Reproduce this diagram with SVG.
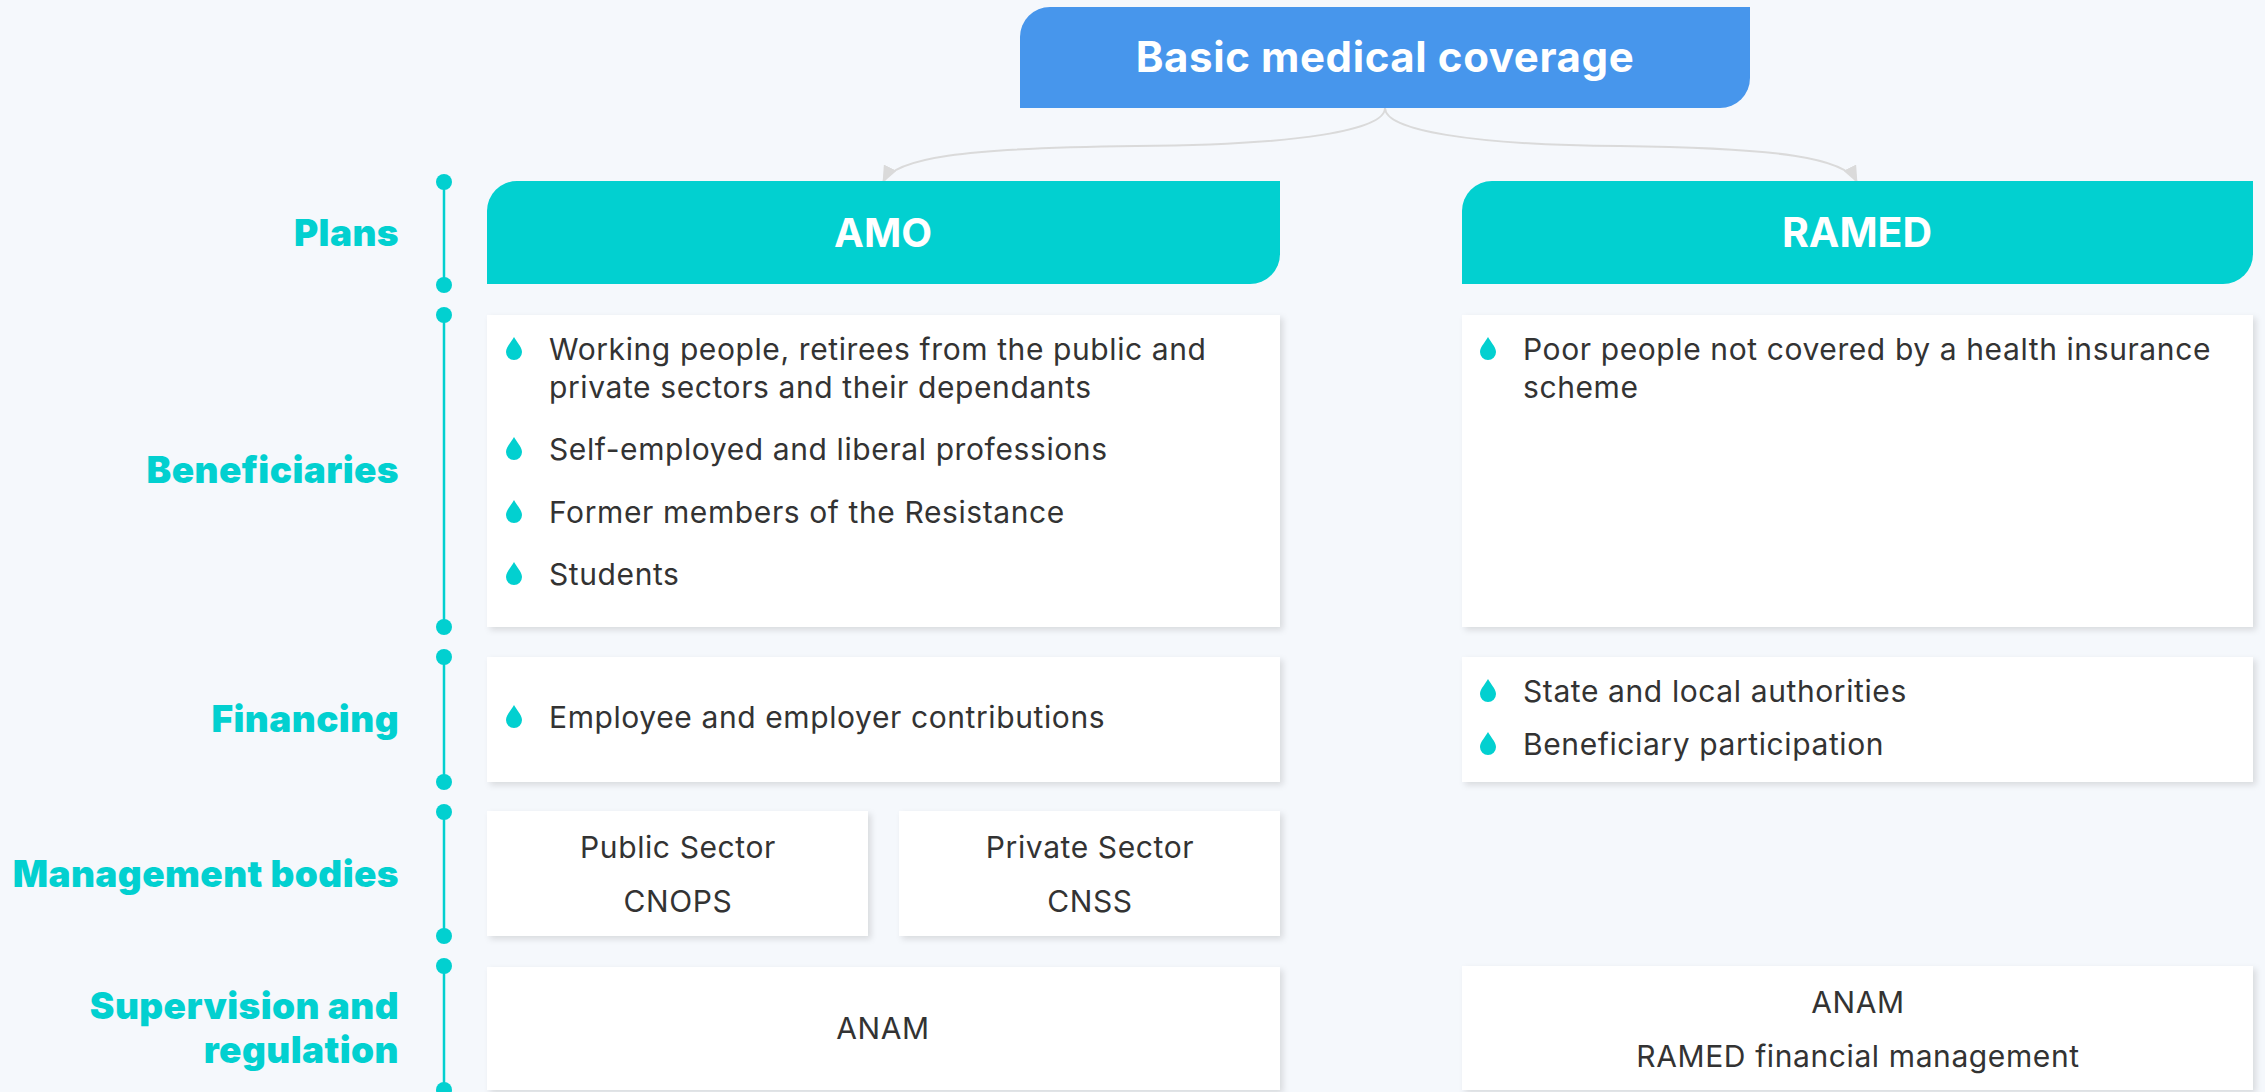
<svg xmlns="http://www.w3.org/2000/svg" width="2265" height="1092" viewBox="0 0 2265 1092">
<defs>
<style>
.bg{fill:#F5F8FC}
.card{fill:#FFFFFF;filter:url(#sh)}
.hdr{fill:#02D0D0}
.ht{font-family:Inter,"Liberation Sans",sans-serif;font-weight:700;fill:#FFFFFF;text-anchor:middle}
.lbl{font-family:Inter,"Liberation Sans",sans-serif;font-weight:900;font-size:37px;letter-spacing:0.4px;fill:#02D0D0;text-anchor:end}
.tx{font-family:Inter,"Liberation Sans",sans-serif;font-size:30px;letter-spacing:0.6px;fill:#333333}
.ct{text-anchor:middle}
.tl{stroke:#02D0D0;stroke-width:2.5}
.dot{fill:#02D0D0}
.con{fill:none;stroke:#DADADA;stroke-width:2}
</style>
<filter id="sh" x="-5%" y="-10%" width="110%" height="125%">
<feDropShadow dx="3" dy="3" stdDeviation="3" flood-color="#000000" flood-opacity="0.12"/>
</filter>
<marker id="ah" markerWidth="18" markerHeight="14" refX="16" refY="7" orient="auto" markerUnits="userSpaceOnUse">
<path d="M0,0 L17,7 L0,14 Z" fill="#DADADA"/>
</marker>
<path id="drop" d="M0,-15 C2,-11 8,-5 8,0 A8,8 0 0 1 -8,0 C-8,-5 -2,-11 0,-15 Z" fill="#02D0D0"/>
</defs>
<rect class="bg" x="0" y="0" width="2265" height="1092"/>

<g id="connectors">
<path class="con" d="M1385,108 C1385,130 1300,145 1136,146 C960,148 895,158 883,182" marker-end="url(#ah)"/>
<path class="con" d="M1385,108 C1385,130 1470,145 1620,146 C1780,148 1845,158 1857,182" marker-end="url(#ah)"/>
</g>

<g id="timeline">
<line class="tl" x1="444" y1="182" x2="444" y2="285"/>
<circle class="dot" cx="444" cy="182" r="8"/><circle class="dot" cx="444" cy="285" r="8"/>
<line class="tl" x1="444" y1="315" x2="444" y2="627"/>
<circle class="dot" cx="444" cy="315" r="8"/><circle class="dot" cx="444" cy="627" r="8"/>
<line class="tl" x1="444" y1="657" x2="444" y2="782"/>
<circle class="dot" cx="444" cy="657" r="8"/><circle class="dot" cx="444" cy="782" r="8"/>
<line class="tl" x1="444" y1="812" x2="444" y2="936"/>
<circle class="dot" cx="444" cy="812" r="8"/><circle class="dot" cx="444" cy="936" r="8"/>
<line class="tl" x1="444" y1="966" x2="444" y2="1092"/>
<circle class="dot" cx="444" cy="966" r="8"/><circle class="dot" cx="444" cy="1090" r="8"/>
</g>

<g id="labels">
<text class="lbl" x="399" y="246">Plans</text>
<text class="lbl" x="399" y="483">Beneficiaries</text>
<text class="lbl" x="399" y="732">Financing</text>
<text class="lbl" x="399" y="887">Management bodies</text>
<text class="lbl" x="399" y="1019">Supervision and</text>
<text class="lbl" x="399" y="1063">regulation</text>
</g>

<g id="title">
<path d="M1050,7 H1750 V78 A30,30 0 0 1 1720,108 H1020 V37 A30,30 0 0 1 1050,7 Z" fill="#4796EC"/>
<text class="ht" x="1385" y="72" font-size="42" letter-spacing="0.6">Basic medical coverage</text>
</g>

<g id="amo">
<path class="hdr" d="M517,181 H1280 V254 A30,30 0 0 1 1250,284 H487 V211 A30,30 0 0 1 517,181 Z"/>
<text class="ht" x="883" y="247" font-size="40">AMO</text>
</g>

<g id="ramed">
<path class="hdr" d="M1492,181 H2253 V254 A30,30 0 0 1 2223,284 H1462 V211 A30,30 0 0 1 1492,181 Z"/>
<text class="ht" x="1857" y="247" font-size="41">RAMED</text>
</g>

<g id="amo-beneficiaries">
<rect class="card" x="487" y="315" width="793" height="312"/>
<use href="#drop" x="514" y="352"/>
<text class="tx" x="549" y="360">Working people, retirees from the public and</text>
<text class="tx" x="549" y="398">private sectors and their dependants</text>
<use href="#drop" x="514" y="452"/>
<text class="tx" x="549" y="460">Self-employed and liberal professions</text>
<use href="#drop" x="514" y="515"/>
<text class="tx" x="549" y="523">Former members of the Resistance</text>
<use href="#drop" x="514" y="577"/>
<text class="tx" x="549" y="585">Students</text>
</g>

<g id="ramed-beneficiaries">
<rect class="card" x="1462" y="315" width="791" height="312"/>
<use href="#drop" x="1488" y="352"/>
<text class="tx" x="1523" y="360">Poor people not covered by a health insurance</text>
<text class="tx" x="1523" y="398">scheme</text>
</g>

<g id="amo-financing">
<rect class="card" x="487" y="657" width="793" height="125"/>
<use href="#drop" x="514" y="720"/>
<text class="tx" x="549" y="728">Employee and employer contributions</text>
</g>

<g id="ramed-financing">
<rect class="card" x="1462" y="657" width="791" height="125"/>
<use href="#drop" x="1488" y="694"/>
<text class="tx" x="1523" y="702">State and local authorities</text>
<use href="#drop" x="1488" y="747"/>
<text class="tx" x="1523" y="755">Beneficiary participation</text>
</g>

<g id="public-sector">
<rect class="card" x="487" y="811" width="381" height="125"/>
<text class="tx ct" x="678" y="858">Public Sector</text>
<text class="tx ct" x="678" y="912">CNOPS</text>
</g>

<g id="private-sector">
<rect class="card" x="899" y="811" width="381" height="125"/>
<text class="tx ct" x="1090" y="858">Private Sector</text>
<text class="tx ct" x="1090" y="912">CNSS</text>
</g>

<g id="amo-supervision">
<rect class="card" x="487" y="967" width="793" height="123"/>
<text class="tx ct" x="883" y="1039">ANAM</text>
</g>

<g id="ramed-supervision">
<rect class="card" x="1462" y="966" width="791" height="124"/>
<text class="tx ct" x="1858" y="1013">ANAM</text>
<text class="tx ct" x="1858" y="1067">RAMED financial management</text>
</g>
</svg>
